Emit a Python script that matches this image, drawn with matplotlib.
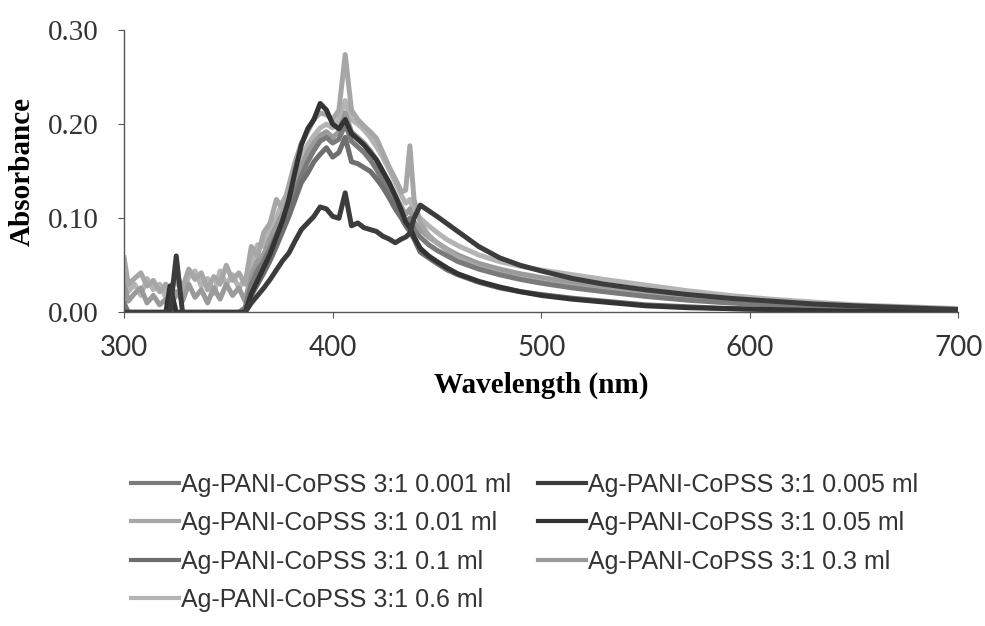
import matplotlib
matplotlib.use("Agg")
import matplotlib.pyplot as plt

# wavelength grid (nm) shared by all spectra
wavelength = [300, 302, 305, 308, 311, 314, 317, 320, 322, 325, 328, 331, 334, 337, 340, 343,
              346, 349, 352, 355, 358, 361, 364, 367, 370, 373, 376, 379, 382, 385, 388, 391,
              394, 397, 400, 403, 406, 409, 412, 415, 418, 421, 424, 427, 430, 433, 435, 437,
              439, 442, 446, 450, 455, 460, 470, 480, 490, 500, 515, 530, 550, 570, 590, 610,
              630, 650, 675, 700]

abs_0001 = [0.010, 0, 0, 0, 0, 0, 0, 0, 0, 0, 0, 0, 0, 0, 0, 0,
            0, 0, 0, 0, 0.005, 0.030, 0.045, 0.055, 0.068, 0.082, 0.096, 0.112, 0.128, 0.145, 0.160, 0.172,
            0.182, 0.186, 0.180, 0.184, 0.200, 0.182, 0.176, 0.170, 0.162, 0.152, 0.140, 0.128, 0.115, 0.104, 0.096, 0.100,
            0.088, 0.080, 0.072, 0.066, 0.060, 0.054, 0.046, 0.040, 0.035, 0.031, 0.026, 0.022, 0.017, 0.013, 0.010, 0.008,
            0.006, 0.004, 0.003, 0.002]
abs_0005 = [0, 0, 0, 0, 0, 0, 0, 0, 0, 0.060, 0, 0, 0, 0, 0, 0,
            0, 0, 0, 0, 0, 0.010, 0.018, 0.026, 0.035, 0.045, 0.055, 0.063, 0.076, 0.088, 0.095, 0.102,
            0.112, 0.110, 0.102, 0.100, 0.127, 0.092, 0.095, 0.090, 0.088, 0.086, 0.081, 0.078, 0.074, 0.078, 0.080, 0.084,
            0.100, 0.114, 0.108, 0.102, 0.094, 0.086, 0.070, 0.058, 0.050, 0.044, 0.036, 0.030, 0.024, 0.019, 0.015, 0.012,
            0.009, 0.007, 0.005, 0.003]
abs_001 = [0.058, 0.030, 0.036, 0.042, 0.028, 0.034, 0.022, 0.030, 0.018, 0.040, 0.026, 0.046, 0.035, 0.042, 0.024, 0.038,
           0.030, 0.050, 0.034, 0.042, 0.030, 0.070, 0.060, 0.085, 0.095, 0.120, 0.110, 0.135, 0.160, 0.180, 0.192, 0.205,
           0.212, 0.210, 0.205, 0.215, 0.274, 0.215, 0.205, 0.198, 0.192, 0.185, 0.170, 0.155, 0.142, 0.128, 0.130, 0.177,
           0.120, 0.095, 0.082, 0.074, 0.066, 0.058, 0.048, 0.041, 0.036, 0.032, 0.027, 0.023, 0.018, 0.014, 0.011, 0.009,
           0.007, 0.005, 0.004, 0.003]
abs_005 = [0, 0, 0, 0, 0, 0, 0, 0, 0.028, 0, 0, 0, 0, 0, 0, 0,
           0, 0, 0, 0, 0, 0.020, 0.034, 0.048, 0.062, 0.080, 0.098, 0.120, 0.150, 0.178, 0.195, 0.205,
           0.222, 0.215, 0.200, 0.195, 0.205, 0.190, 0.184, 0.178, 0.170, 0.162, 0.150, 0.138, 0.124, 0.108, 0.096, 0.090,
           0.080, 0.068, 0.060, 0.054, 0.047, 0.041, 0.033, 0.027, 0.022, 0.018, 0.014, 0.011, 0.007, 0.005, 0.004, 0.003,
           0.002, 0.001, 0.001, 0.000]
abs_01 = [0, 0, 0, 0, 0, 0, 0, 0, 0, 0, 0, 0, 0, 0, 0, 0,
          0, 0, 0, 0, 0, 0.018, 0.030, 0.042, 0.055, 0.070, 0.086, 0.102, 0.120, 0.138, 0.148, 0.160,
          0.168, 0.175, 0.165, 0.170, 0.186, 0.160, 0.158, 0.154, 0.150, 0.142, 0.133, 0.122, 0.110, 0.100, 0.092, 0.086,
          0.078, 0.064, 0.058, 0.052, 0.045, 0.040, 0.032, 0.026, 0.022, 0.019, 0.015, 0.012, 0.008, 0.006, 0.004, 0.003,
          0.002, 0.002, 0.001, 0.001]
abs_03 = [0.030, 0.012, 0.020, 0.026, 0.010, 0.018, 0.008, 0.014, 0.000, 0.022, 0.012, 0.030, 0.016, 0.024, 0.010, 0.026,
          0.014, 0.030, 0.018, 0.026, 0.012, 0.040, 0.055, 0.062, 0.078, 0.092, 0.105, 0.120, 0.138, 0.155, 0.170, 0.180,
          0.188, 0.192, 0.186, 0.192, 0.212, 0.192, 0.186, 0.180, 0.172, 0.162, 0.150, 0.138, 0.124, 0.112, 0.104, 0.110,
          0.096, 0.088, 0.080, 0.074, 0.067, 0.061, 0.052, 0.046, 0.041, 0.037, 0.032, 0.027, 0.022, 0.017, 0.013, 0.010,
          0.008, 0.006, 0.004, 0.003]
abs_06 = [0.040, 0.022, 0.030, 0.018, 0.036, 0.024, 0.030, 0.016, 0.028, 0.034, 0.020, 0.038, 0.044, 0.028, 0.036, 0.020,
          0.044, 0.030, 0.040, 0.026, 0.036, 0.050, 0.072, 0.070, 0.088, 0.100, 0.118, 0.128, 0.148, 0.165, 0.178, 0.188,
          0.196, 0.200, 0.196, 0.205, 0.225, 0.205, 0.200, 0.194, 0.186, 0.176, 0.165, 0.152, 0.138, 0.124, 0.116, 0.120,
          0.108, 0.100, 0.092, 0.085, 0.077, 0.071, 0.061, 0.054, 0.049, 0.045, 0.040, 0.035, 0.029, 0.023, 0.018, 0.014,
          0.011, 0.008, 0.006, 0.004]

labels = ["Ag-PANI-CoPSS 3:1 0.001 ml", "Ag-PANI-CoPSS 3:1 0.005 ml",
          "Ag-PANI-CoPSS 3:1 0.01 ml", "Ag-PANI-CoPSS 3:1 0.05 ml",
          "Ag-PANI-CoPSS 3:1 0.1 ml", "Ag-PANI-CoPSS 3:1 0.3 ml",
          "Ag-PANI-CoPSS 3:1 0.6 ml"]
series = [abs_0001, abs_0005, abs_001, abs_005, abs_01, abs_03, abs_06]
colors = ["#7a7a7a", "#3c3c3c", "#a6a6a6", "#333333", "#6e6e6e", "#9a9a9a", "#b4b4b4"]

fig = plt.figure(figsize=(9.85, 6.26), dpi=100)
ax = fig.add_axes([0.126, 0.501, 0.847, 0.451])

# draw light ones first so the dark curves stay visible
order = [6, 5, 2, 0, 4, 3, 1]
lines = {}
for i in order:
    ln, = ax.plot(wavelength, series[i], color=colors[i], lw=3.6, solid_joinstyle="round")
    lines[i] = ln

ax.set_xlim(300, 700)
ax.set_ylim(0, 0.30)
ax.set_xticks([300, 400, 500, 600, 700])
ax.set_yticks([0, 0.1, 0.2, 0.3])
ax.set_yticklabels(["0.00", "0.10", "0.20", "0.30"], fontfamily="Liberation Serif", fontsize=21)
ax.set_xticklabels(["300", "400", "500", "600", "700"], fontfamily="Lato", fontsize=20)
ax.tick_params(axis="y", length=4, width=0.8, pad=14, color="#555555", labelcolor="#333333")
ax.tick_params(axis="x", length=4, width=0.8, pad=12, color="#555555", labelcolor="#333333")

for s in ["top", "right"]:
    ax.spines[s].set_visible(False)
for s in ["left", "bottom"]:
    ax.spines[s].set_linestyle((0, (1, 1)))
    ax.spines[s].set_color("#555555")
    ax.spines[s].set_linewidth(1.0)

ax.set_ylabel("Absorbance", fontfamily="Liberation Serif", fontweight="bold", fontsize=21, labelpad=9)
ax.set_xlabel("Wavelength (nm)", fontfamily="Liberation Serif", fontweight="bold", fontsize=21, labelpad=8)

# legend row-major in two columns
leg_idx = [0, 2, 4, 6, 1, 3, 5]
leg = fig.legend([lines[i] for i in leg_idx], [labels[i] for i in leg_idx], ncol=2,
                 loc="upper left", bbox_to_anchor=(0.133, 0.245), frameon=False,
                 prop={"family": "Liberation Sans", "size": 18}, handlelength=1.9, handletextpad=0.08,
                 columnspacing=1.1, labelspacing=0.58, borderaxespad=0, borderpad=0)
for t in leg.get_texts():
    t.set_color("#333333")
for h in leg.legend_handles:
    h.set_linewidth(3.0)

fig.savefig("out.png", dpi=100)
